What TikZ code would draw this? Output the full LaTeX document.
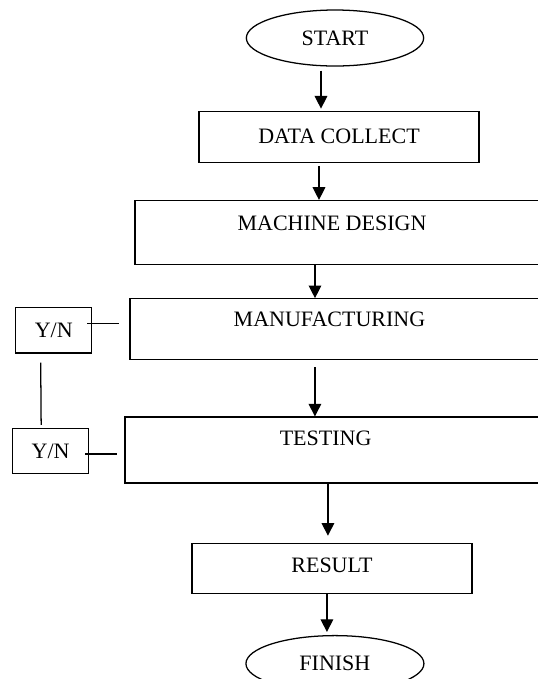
\documentclass[tikz,border=0pt]{standalone}
\usepackage{fontspec}
\setmainfont{Liberation Serif}
\usetikzlibrary{positioning,shapes.geometric,arrows.meta}

\begin{document}
\begin{tikzpicture}
\tikzstyle{term}=[ellipse, draw=black, line width=0.95pt, inner sep=0pt, minimum width=133pt, minimum height=42pt, font=\fontsize{16.5}{19}\selectfont]
\tikzstyle{box}=[rectangle, draw=black, line width=0.95pt, inner sep=0pt, font=\fontsize{16.5}{19}\selectfont]
\tikzstyle{yn}=[box, minimum width=57pt, minimum height=34pt, text depth=0pt]
\tikzstyle{connect}=[-{Triangle[length=9.5pt,width=9.5pt]}, line width=0.95pt]
\tikzstyle{line}=[line width=0.95pt]
\useasboundingbox (-251.25pt,-480.75pt) rectangle (152.25pt,28.5pt);
\clip (-251.25pt,-480.75pt) rectangle (152.25pt,28.5pt);
  \node[term] (start) at (0,0) {START};
  \node[box, minimum width=210pt, minimum height=38.25pt] (data) [below=33pt of start, xshift=3pt] {DATA COLLECT};
  \node[box, minimum width=307.5pt, minimum height=48pt, text depth=13.5pt] (design) [below=27.75pt of data, xshift=0.75pt] {MACHINE DESIGN\kern12pt};
  \node[box, minimum width=311.25pt, minimum height=45.75pt, text depth=15pt] (manuf) [below=24.75pt of design, xshift=-1.9pt] {MANUFACTURING\kern12pt};
  \node[box, minimum width=315pt, minimum height=49.5pt, text depth=18pt] (test) [below=42pt of manuf, xshift=-1.9pt] {TESTING\kern14pt};
  \node[box, minimum width=210pt, minimum height=37.5pt, text depth=5pt] (result) [below=44.25pt of test, xshift=-2.25pt] {RESULT};
  \node[term, minimum width=133.5pt] (finish) [below=30.75pt of result, xshift=2.25pt] {FINISH};
  \node[yn] (yn1) [left=27.75pt of manuf, yshift=-0.75pt] {Y/N};
  \node[yn] (yn2) [left=26.25pt of test, yshift=-0.75pt] {Y/N};
\path ([xshift=-10.5pt]start.south) edge[connect, shorten <=3pt, shorten >=1.5pt] ([xshift=-10.5pt]start.south |- data.north)
      ([xshift=-15pt]data.south) edge[connect, shorten <=2.25pt] ([xshift=-15pt]data.south |- design.north)
      ([xshift=-18.75pt]design.south) edge[connect] ([xshift=-18.75pt]design.south |- manuf.north)
      ([xshift=-16.9pt]manuf.south) edge[connect, shorten <=5.25pt] ([xshift=-16.9pt]manuf.south |- test.north)
      ([xshift=-5.25pt]test.south) edge[connect, shorten >=5.25pt] ([xshift=-5.25pt]test.south |- result.north)
      ([xshift=-3.75pt]result.south) edge[connect, shorten >=2.25pt] ([xshift=-3.75pt]result.south |- finish.north)
      ([xshift=-3.75pt,yshift=4.875pt]yn1.east) edge[line] ([xshift=-7.5pt,yshift=4.125pt]manuf.west)
      ([xshift=-3pt,yshift=-2.25pt]yn2.east) edge[line] ([xshift=-5.25pt,yshift=-3pt]test.west)
      ([xshift=-9.75pt,yshift=-6.75pt]yn1.south) edge[line] ([xshift=-7.125pt,yshift=2.25pt]yn2.north)
      ;
\end{tikzpicture}
\end{document}
